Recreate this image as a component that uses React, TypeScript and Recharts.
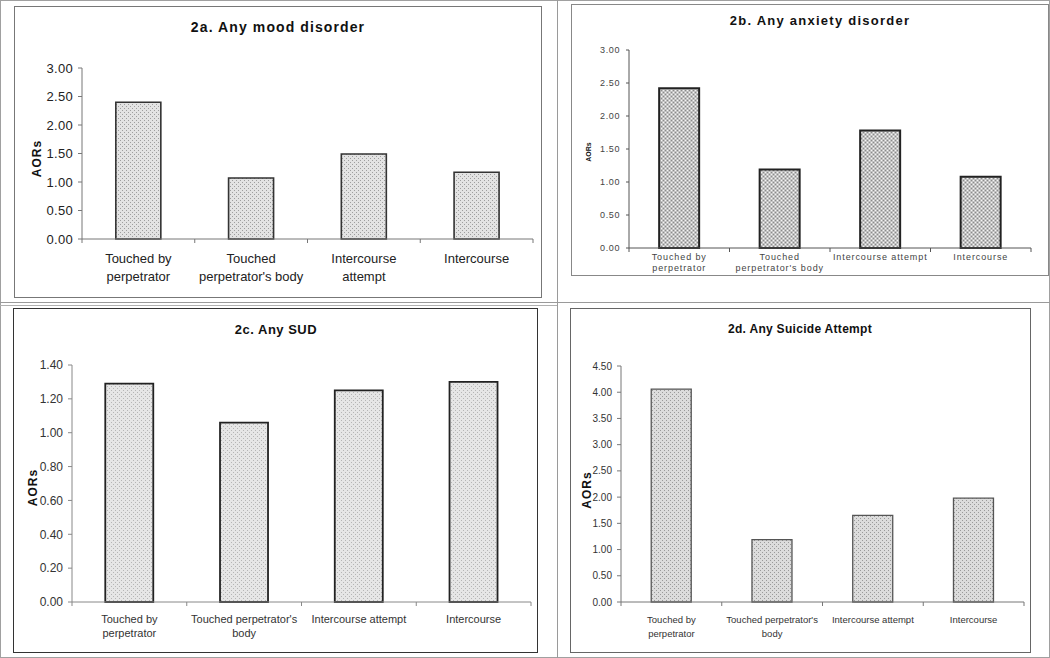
import { BarChart, Bar, XAxis, YAxis } from 'recharts';

// category labels ("\n" = line break as in the original figure)
const categoriesA = ['Touched by\nperpetrator', "Touched\nperpetrator's body", 'Intercourse\nattempt', 'Intercourse'];
const categoriesB = ['Touched by\nperpetrator', "Touched\nperpetrator's body", 'Intercourse attempt', 'Intercourse'];
const categoriesCD = ['Touched by\nperpetrator', "Touched perpetrator's\nbody", 'Intercourse attempt', 'Intercourse'];

// adjusted odds ratios
const moodAORs = [2.4, 1.07, 1.49, 1.17];
const anxietyAORs = [2.42, 1.19, 1.78, 1.08];
const sudAORs = [1.29, 1.06, 1.25, 1.3];
const suicideAORs = [4.06, 1.19, 1.65, 1.98];

// y axis ticks
const ticksMood = [0, 0.5, 1, 1.5, 2, 2.5, 3];
const ticksAnxiety = [0, 0.5, 1, 1.5, 2, 2.5, 3];
const ticksSud = [0, 0.2, 0.4, 0.6, 0.8, 1, 1.2, 1.4];
const ticksSuicide = [0, 0.5, 1, 1.5, 2, 2.5, 3, 3.5, 4, 4.5];

const FONT = '"Liberation Sans", Arial, sans-serif';

type Box = { x: number; y: number; w: number; h: number };

type PanelProps = {
  id: string;
  title: string;
  categories: string[];
  values: number[];
  yTicks: number[];
  box: Box;
  plot: { l: number; r: number; t: number; b: number };
  yAxisWidth: number;
  xAxisHeight: number;
  titleX: number;
  titleY: number;
  titleSize: number;
  titleSpacing: number;
  tickFont: number;
  tickSpacing: number;
  tickColor: string;
  tickLen: number;
  tickGap: number;
  catFont: number;
  catSpacing: number;
  catFirst: number;
  catLine: number;
  labelSize: number;
  labelDx: number;
  labelDy: number;
  labelSpacing: number;
  frame: string;
  axis: string;
  barStroke: string;
  barStrokeWidth: number;
  patBg: string;
  patDot: string;
  patLight?: string;
  gap: string;
};

function CategoryTick(props: any) {
  const { x, y, payload, index, visibleTicksCount, half, cfg } = props;
  const h = payload && payload.offset ? payload.offset : half;
  const lines = String(payload.value).split('\n');
  return (
    <g>
      <line x1={x - h} x2={x - h} y1={y} y2={y + 4} stroke={cfg.axis} />
      {index === visibleTicksCount - 1 && <line x1={x + h} x2={x + h} y1={y} y2={y + 4} stroke={cfg.axis} />}
      <text
        x={x}
        y={y + cfg.catFirst}
        textAnchor="middle"
        fontSize={cfg.catFont}
        fill={cfg.tickColor}
        style={{ letterSpacing: cfg.catSpacing }}
      >
        {lines.map((l: string, i: number) => (
          <tspan key={i} x={x} dy={i === 0 ? 0 : cfg.catLine}>
            {l}
          </tspan>
        ))}
      </text>
    </g>
  );
}

function Panel(p: PanelProps) {
  const data = p.categories.map((label, i) => ({ label, value: p.values[i] }));
  const margin = {
    top: p.plot.t - p.box.y,
    left: p.plot.l - p.box.x - p.yAxisWidth,
    right: p.box.x + p.box.w - p.plot.r,
    bottom: p.box.y + p.box.h - p.plot.b - p.xAxisHeight,
  };
  const half = (p.plot.r - p.plot.l) / p.categories.length / 2;
  const yMax = p.yTicks[p.yTicks.length - 1];

  return (
    <>
      <div
        style={{
          position: 'absolute',
          left: p.box.x,
          top: p.box.y,
          width: p.box.w,
          height: p.box.h,
          border: `1.5px solid ${p.frame}`,
          boxSizing: 'border-box',
        }}
      />
      <div style={{ position: 'absolute', left: p.box.x, top: p.box.y, width: p.box.w, height: p.box.h }}>
        <BarChart width={p.box.w} height={p.box.h} data={data} margin={margin} barCategoryGap={p.gap}>
          <defs>
            <pattern id={`dots-${p.id}`} width={4} height={4} patternUnits="userSpaceOnUse">
              <rect width={4} height={4} fill={p.patBg} />
              <rect x={0} y={0} width={1} height={1} fill={p.patDot} />
              <rect x={2} y={2} width={1} height={1} fill={p.patDot} />
              {p.patLight && <rect x={2} y={0} width={1} height={1} fill={p.patLight} />}
              {p.patLight && <rect x={0} y={2} width={1} height={1} fill={p.patLight} />}
            </pattern>
          </defs>
          <XAxis
            dataKey="label"
            interval={0}
            height={p.xAxisHeight}
            tickLine={false}
            tickSize={0}
            tickMargin={0}
            axisLine={{ stroke: p.axis }}
            tick={(tp: any) => <CategoryTick {...tp} half={half} cfg={p} />}
          />
          <YAxis
            type="number"
            domain={[0, yMax]}
            ticks={p.yTicks}
            interval={0}
            width={p.yAxisWidth}
            tickSize={p.tickLen}
            tickMargin={p.tickGap}
            axisLine={{ stroke: p.axis }}
            tickLine={{ stroke: p.axis }}
            tickFormatter={(v: number) => v.toFixed(2)}
            tick={{ fontSize: p.tickFont, fill: p.tickColor, style: { letterSpacing: p.tickSpacing } }}
            label={(lp: any) => {
              const vb = lp && lp.viewBox ? lp.viewBox : { x: margin.left, y: margin.top, height: p.plot.b - p.plot.t };
              const cx = vb.x + p.labelDx;
              const cy = vb.y + vb.height / 2 + p.labelDy;
              return (
                <text
                  x={cx}
                  y={cy}
                  transform={`rotate(-90 ${cx} ${cy})`}
                  textAnchor="middle"
                  dominantBaseline="central"
                  fontSize={p.labelSize}
                  fontWeight="bold"
                  fill="#111"
                  style={{ letterSpacing: p.labelSpacing }}
                >
                  AORs
                </text>
              );
            }}
          />
          <Bar
            dataKey="value"
            fill={`url(#dots-${p.id})`}
            stroke={p.barStroke}
            strokeWidth={p.barStrokeWidth}
            isAnimationActive={false}
          />
        </BarChart>
      </div>
      <div
        style={{
          position: 'absolute',
          left: p.titleX - 200,
          width: 400,
          top: p.titleY - p.titleSize * 0.49,
          textAlign: 'center',
          fontSize: p.titleSize,
          lineHeight: 1,
          fontWeight: 'bold',
          letterSpacing: p.titleSpacing,
          color: '#111',
          whiteSpace: 'nowrap',
        }}
      >
        {p.title}
      </div>
    </>
  );
}

export default function App() {
  return (
    <div
      style={{
        position: 'absolute',
        left: 0,
        top: 0,
        width: 1050,
        height: 658,
        background: '#fff',
        fontFamily: FONT,
        overflow: 'hidden',
      }}
    >
      {/* outer frame and cell dividers */}
      <div style={{ position: 'absolute', left: 0, top: 0, width: 1050, height: 658, border: '1px solid #a0a0a0', boxSizing: 'border-box' }} />
      <div style={{ position: 'absolute', left: 557, top: 0, width: 1, height: 658, background: '#9a9a9a' }} />
      <div style={{ position: 'absolute', left: 0, top: 302, width: 1050, height: 1, background: '#9a9a9a' }} />
      <div style={{ position: 'absolute', left: 0, top: 305, width: 557, height: 1, background: '#b0b0b0' }} />

      <Panel
        id="a"
        title="2a. Any mood disorder"
        categories={categoriesA}
        values={moodAORs}
        yTicks={ticksMood}
        box={{ x: 14, y: 6, w: 528, h: 292 }}
        plot={{ l: 82, r: 533, t: 68, b: 239 }}
        yAxisWidth={50}
        xAxisHeight={45}
        titleX={278}
        titleY={27}
        titleSize={14}
        titleSpacing={1.1}
        tickFont={13}
        tickSpacing={0.3}
        tickColor="#222"
        tickLen={4}
        tickGap={5}
        catFont={13}
        catSpacing={0}
        catFirst={23.5}
        catLine={18}
        labelSize={12}
        labelDx={5}
        labelDy={5}
        labelSpacing={1}
        frame="#777"
        axis="#777"
        barStroke="#333"
        barStrokeWidth={1.6}
        patBg="#e3e3e3"
        patDot="#9e9e9e"
        gap="30%"
      />
      <Panel
        id="b"
        title="2b. Any anxiety disorder"
        categories={categoriesB}
        values={anxietyAORs}
        yTicks={ticksAnxiety}
        box={{ x: 571, y: 4, w: 478, h: 272 }}
        plot={{ l: 629, r: 1031, t: 50, b: 248 }}
        yAxisWidth={40}
        xAxisHeight={25}
        titleX={820}
        titleY={20}
        titleSize={13}
        titleSpacing={1.25}
        tickFont={9}
        tickSpacing={0.6}
        tickColor="#444"
        tickLen={3}
        tickGap={6}
        catFont={9}
        catSpacing={0.9}
        catFirst={12}
        catLine={11}
        labelSize={7}
        labelDx={-1}
        labelDy={3}
        labelSpacing={0}
        frame="#888"
        axis="#555"
        barStroke="#222"
        barStrokeWidth={2}
        patBg="#c2c2c2"
        patDot="#8a8a8a"
        patLight="#f4f4f4"
        gap="30%"
      />
      <Panel
        id="c"
        title="2c. Any SUD"
        categories={categoriesCD}
        values={sudAORs}
        yTicks={ticksSud}
        box={{ x: 13, y: 308, w: 525, h: 345 }}
        plot={{ l: 72, r: 531, t: 365, b: 602 }}
        yAxisWidth={45}
        xAxisHeight={40}
        titleX={276}
        titleY={329}
        titleSize={13}
        titleSpacing={0.5}
        tickFont={12}
        tickSpacing={0}
        tickColor="#333"
        tickLen={4}
        tickGap={5}
        catFont={11}
        catSpacing={0}
        catFirst={21}
        catLine={14}
        labelSize={12}
        labelDx={6}
        labelDy={4}
        labelSpacing={1}
        frame="#333"
        axis="#888"
        barStroke="#222"
        barStrokeWidth={1.8}
        patBg="#e6e6e6"
        patDot="#b5b5b5"
        gap="29%"
      />
      <Panel
        id="d"
        title="2d. Any Suicide Attempt"
        categories={categoriesCD}
        values={suicideAORs}
        yTicks={ticksSuicide}
        box={{ x: 570, y: 308, w: 461, h: 345 }}
        plot={{ l: 621, r: 1024, t: 366, b: 602 }}
        yAxisWidth={40}
        xAxisHeight={40}
        titleX={800}
        titleY={329}
        titleSize={12}
        titleSpacing={0.3}
        tickFont={10}
        tickSpacing={0}
        tickColor="#333"
        tickLen={4}
        tickGap={5}
        catFont={9.5}
        catSpacing={0}
        catFirst={21}
        catLine={14}
        labelSize={12}
        labelDx={6}
        labelDy={6}
        labelSpacing={1}
        frame="#666"
        axis="#777"
        barStroke="#555"
        barStrokeWidth={1.3}
        patBg="#dcdcdc"
        patDot="#9a9a9a"
        gap="30%"
      />
    </div>
  );
}
